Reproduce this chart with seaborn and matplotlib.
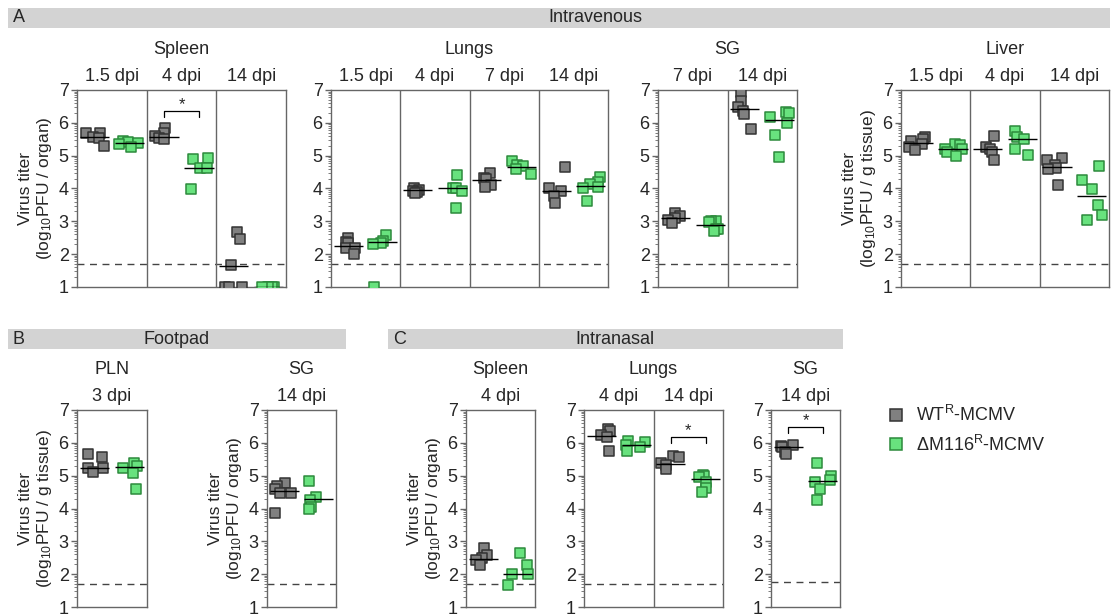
import numpy as np
import pandas as pd
import matplotlib
matplotlib.use("Agg")
import matplotlib.pyplot as plt
import matplotlib.transforms as mtrans
from matplotlib.lines import Line2D
import seaborn as sns

# titers (log10 PFU), one list per dpi group
# A - intravenous
iv_spleen_days = ["1.5 dpi", "4 dpi", "14 dpi"]
iv_spleen_wt = [[5.70, 5.68, 5.56, 5.53, 5.29], [5.83, 5.68, 5.60, 5.53, 5.50], [2.68, 2.45, 1.66, 1.0, 1.0, 1.0]]
iv_spleen_ko = [[5.44, 5.42, 5.39, 5.37, 5.27], [4.92, 4.89, 4.61, 4.61, 3.98], [1.0, 1.0, 1.0, 1.0, 1.0]]
iv_spleen_wt_line = [5.58, 5.58, 1.64]
iv_spleen_ko_line = [5.38, 4.61, 1.0]

iv_lungs_days = ["1.5 dpi", "4 dpi", "7 dpi", "14 dpi"]
iv_lungs_wt = [[2.50, 2.37, 2.35, 2.20, 2.20, 2.02], [4.00, 3.95, 3.93, 3.88, 3.87],
               [4.48, 4.32, 4.28, 4.12, 4.05], [4.65, 4.02, 3.93, 3.78, 3.55]]
iv_lungs_ko = [[2.57, 2.40, 2.35, 2.30, 1.0], [4.41, 4.03, 4.02, 3.92, 3.40],
               [4.84, 4.72, 4.68, 4.60, 4.43], [4.35, 4.20, 4.15, 4.05, 4.03, 3.62]]
iv_lungs_wt_line = [2.25, 3.94, 4.27, 3.93]
iv_lungs_ko_line = [2.37, 4.02, 4.67, 4.08]

iv_sg_days = ["7 dpi", "14 dpi"]
iv_sg_wt = [[3.25, 3.16, 3.11, 3.05, 2.94], [6.93, 6.67, 6.47, 6.37, 6.27, 5.81]]
iv_sg_ko = [[3.01, 3.00, 2.98, 2.78, 2.76, 2.70], [6.32, 6.30, 6.17, 5.99, 5.63, 4.97]]
iv_sg_wt_line = [3.11, 6.42]
iv_sg_ko_line = [2.88, 6.08]

iv_liver_days = ["1.5 dpi", "4 dpi", "14 dpi"]
iv_liver_wt = [[5.56, 5.50, 5.45, 5.35, 5.27, 5.17], [5.60, 5.27, 5.20, 5.10, 4.86], [4.94, 4.86, 4.72, 4.62, 4.60, 4.10]]
iv_liver_ko = [[5.35, 5.32, 5.20, 5.20, 5.10, 4.98], [5.74, 5.57, 5.50, 5.20, 5.03], [4.69, 4.25, 3.98, 3.50, 3.19, 3.03]]
iv_liver_wt_line = [5.40, 5.20, 4.67]
iv_liver_ko_line = [5.20, 5.50, 3.77]

# B - footpad
fp_pln_days = ["3 dpi"]
fp_pln_wt = [[5.66, 5.58, 5.24, 5.22, 5.10]]
fp_pln_ko = [[5.38, 5.30, 5.24, 5.07, 4.59]]
fp_pln_wt_line = [5.24]
fp_pln_ko_line = [5.25]

fp_sg_days = ["14 dpi"]
fp_sg_wt = [[4.79, 4.68, 4.58, 4.46, 4.46, 3.87]]
fp_sg_ko = [[4.84, 4.36, 4.26, 4.04, 4.00]]
fp_sg_wt_line = [4.53]
fp_sg_ko_line = [4.28]

# C - intranasal
in_spleen_days = ["4 dpi"]
in_spleen_wt = [[2.79, 2.58, 2.48, 2.43, 2.28]]
in_spleen_ko = [[2.63, 2.28, 2.00, 2.00, 1.67]]
in_spleen_wt_line = [2.46]
in_spleen_ko_line = [2.00]

in_lungs_days = ["4 dpi", "14 dpi"]
in_lungs_wt = [[6.42, 6.37, 6.24, 6.19, 5.76], [5.61, 5.56, 5.38, 5.32, 5.19]]
in_lungs_ko = [[6.07, 6.04, 5.93, 5.87, 5.76], [5.02, 4.99, 4.95, 4.82, 4.62, 4.51]]
in_lungs_wt_line = [6.22, 5.35]
in_lungs_ko_line = [5.93, 4.89]

in_sg_days = ["14 dpi"]
in_sg_wt = [[5.93, 5.90, 5.88, 5.73, 5.65]]
in_sg_ko = [[5.38, 5.00, 4.87, 4.80, 4.59, 4.26]]
in_sg_wt_line = [5.86]
in_sg_ko_line = [4.84]

detection_limit = 1.7
strains = ["WT", "KO"]
strain_labels = ["WT$^{\\mathrm{R}}$-MCMV", "\u0394M116$^{\\mathrm{R}}$-MCMV"]

# style
sns.set_style("white")
plt.rcParams['font.family'] = ['Liberation Sans', 'DejaVu Sans']
plt.rcParams['mathtext.fontset'] = 'custom'
plt.rcParams['mathtext.rm'] = 'Liberation Sans'
plt.rcParams['mathtext.it'] = 'Liberation Sans:italic'
plt.rcParams['mathtext.bf'] = 'Liberation Sans:bold'

face = {"WT": "#808080", "KO": "#68e27e"}
edge = {"WT": "#333333", "KO": "#2c8a3c"}
frame_col = "#666666"
FS = 13

np.random.seed(7)

W, H = 1116, 616
fig = plt.figure(figsize=(W / 100, H / 100), dpi=100)


def px_axes(left, right, top, bottom):
    return fig.add_axes([left / W, 1 - bottom / H, (right - left) / W, (bottom - top) / H])


def band(x0, x1, y0, y1, letter, title, title_x):
    fig.add_artist(plt.Rectangle((x0 / W, 1 - y1 / H), (x1 - x0) / W, (y1 - y0) / H,
                                 transform=fig.transFigure, color="#d3d3d3", lw=0, zorder=0))
    yc = 1 - (y0 + y1) / 2 / H
    fig.text((x0 + 5) / W, yc, letter, fontsize=FS, va="center", ha="left")
    fig.text(title_x / W, yc, title, fontsize=FS, va="center", ha="center")


def draw_panel(ax, organ, days, wt, ko, wt_line, ko_line, ylabel=None, star=None, limit=detection_limit):
    rows = []
    for i, d in enumerate(days):
        for v in wt[i]:
            rows.append((d + " WT", "WT", v))
        for v in ko[i]:
            rows.append((d + " KO", "KO", v))
    df = pd.DataFrame(rows, columns=["group", "strain", "titer"])
    order = [d + " " + s for d in days for s in strains]

    for s in strains:
        sns.stripplot(data=df[df.strain == s], x="group", y="titer", order=order,
                      color=face[s], edgecolor=edge[s], linewidth=1.1, marker="s",
                      size=7.8, jitter=0.3, ax=ax, zorder=3)

    # centre lines
    for i in range(len(days)):
        ax.hlines(wt_line[i], 2 * i - 0.42, 2 * i + 0.42, color="k", lw=1, zorder=4)
        ax.hlines(ko_line[i], 2 * i + 1 - 0.42, 2 * i + 1 + 0.42, color="k", lw=1, zorder=4)

    # subpanel dividers
    for i in range(1, len(days)):
        ax.axvline(2 * i - 0.5, color=frame_col, lw=1)

    ax.axhline(limit, color="#444444", lw=1, ls=(0, (5, 4)), zorder=1)

    n = 2 * len(days)
    ax.set_xlim(-0.5, n - 0.5)
    ax.set_ylim(1, 7)
    ax.set_xticks([])
    ax.set_xlabel("")
    ax.set_yticks(range(1, 8))
    ax.set_yticks([k + np.log10(m) for k in range(1, 7) for m in range(2, 10)], minor=True)
    ax.tick_params(axis="y", which="major", length=4, width=1, color=frame_col, labelsize=FS, pad=2, left=True)
    ax.tick_params(axis="y", which="minor", length=2, width=0.6, color=frame_col, left=True)
    for sp in ax.spines.values():
        sp.set_color(frame_col)
        sp.set_linewidth(1)

    if ylabel:
        ax.set_ylabel("Virus titer\n(log$_{10}$PFU / " + ylabel + ")", fontsize=12.5, labelpad=3)
    else:
        ax.set_ylabel("")

    tr = mtrans.blended_transform_factory(ax.transData, ax.transAxes)
    for i, d in enumerate(days):
        ax.annotate(d, xy=(2 * i + 0.5, 1), xycoords=tr, xytext=(0, 10), textcoords="offset points",
                    ha="center", va="center", fontsize=FS)
    ax.annotate(organ, xy=((n - 1) / 2, 1), xycoords=tr, xytext=(0, 29), textcoords="offset points",
                ha="center", va="center", fontsize=FS)

    if star is not None:
        i, y = star
        x0, x1 = 2 * i, 2 * i + 1
        ax.plot([x0, x0, x1, x1], [y - 0.17, y, y, y - 0.17], color="k", lw=0.9)
        ax.text((x0 + x1) / 2, y - 0.02, "*", ha="center", va="bottom", fontsize=12)


# A - intravenous
band(8, 1110, 8, 28, "A", "Intravenous", 595)
draw_panel(px_axes(77, 286, 90, 287), "Spleen", iv_spleen_days, iv_spleen_wt, iv_spleen_ko,
           iv_spleen_wt_line, iv_spleen_ko_line, ylabel="organ", star=(1, 6.36))
draw_panel(px_axes(331, 608, 90, 287), "Lungs", iv_lungs_days, iv_lungs_wt, iv_lungs_ko,
           iv_lungs_wt_line, iv_lungs_ko_line)
draw_panel(px_axes(658, 797, 90, 287), "SG", iv_sg_days, iv_sg_wt, iv_sg_ko,
           iv_sg_wt_line, iv_sg_ko_line)
draw_panel(px_axes(901, 1109, 90, 287), "Liver", iv_liver_days, iv_liver_wt, iv_liver_ko,
           iv_liver_wt_line, iv_liver_ko_line, ylabel="g tissue")

# B - footpad
band(8, 346, 329, 349, "B", "Footpad", 177)
draw_panel(px_axes(77, 147, 410, 607), "PLN", fp_pln_days, fp_pln_wt, fp_pln_ko,
           fp_pln_wt_line, fp_pln_ko_line, ylabel="g tissue")
draw_panel(px_axes(267, 336, 410, 607), "SG", fp_sg_days, fp_sg_wt, fp_sg_ko,
           fp_sg_wt_line, fp_sg_ko_line, ylabel="organ")

# C - intranasal
band(388, 843, 329, 349, "C", "Intranasal", 615)
draw_panel(px_axes(466, 535, 410, 607), "Spleen", in_spleen_days, in_spleen_wt, in_spleen_ko,
           in_spleen_wt_line, in_spleen_ko_line, ylabel="organ")
draw_panel(px_axes(584, 723, 410, 607), "Lungs", in_lungs_days, in_lungs_wt, in_lungs_ko,
           in_lungs_wt_line, in_lungs_ko_line, star=(1, 6.17))
draw_panel(px_axes(771, 840, 410, 607), "SG", in_sg_days, in_sg_wt, in_sg_ko,
           in_sg_wt_line, in_sg_ko_line, star=(0, 6.47), limit=1.75)

# legend
handles = [Line2D([], [], marker="s", ls="", ms=9, mfc=face[s], mec=edge[s], mew=1.1) for s in strains]
fig.legend(handles, strain_labels, loc="center left", bbox_to_anchor=(878 / W, 1 - 430 / H),
           frameon=False, fontsize=FS, handlelength=1.2, handletextpad=0.5, labelspacing=0.5,
           borderaxespad=0)

fig.savefig("out.png", dpi=100)
